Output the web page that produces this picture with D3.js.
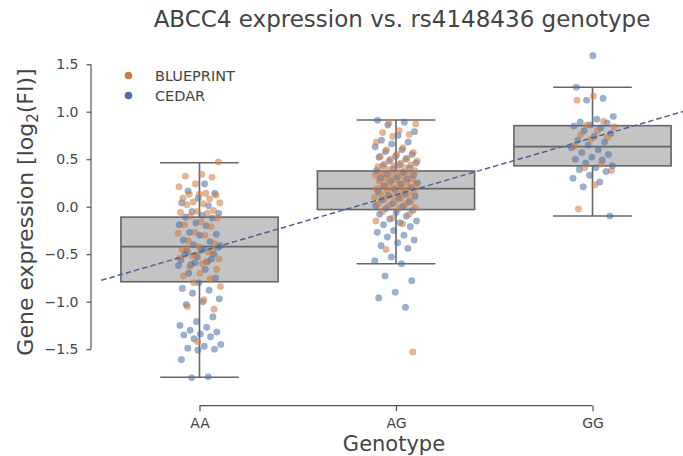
<!DOCTYPE html>
<html><head><meta charset="utf-8">
<script src="https://cdn.jsdelivr.net/npm/d3@7"></script>
<style>body{margin:0;background:#fff}svg{display:block}</style>
</head><body><svg id="c" width="683" height="456"></svg>
<script>
const genotypes = ["AA", "AG", "GG"];
const sources = ["BLUEPRINT", "CEDAR"];
const yTicks = [-1.5, -1.0, -0.5, 0.0, 0.5, 1.0, 1.5];
// box statistics
const q1 = [-0.79, -0.03, 0.43];
const median = [-0.42, 0.19, 0.632];
const q3 = [-0.11, 0.376, 0.853];
const whiskerLow = [-1.796, -0.60, -0.098];
const whiskerHigh = [0.463, 0.913, 1.257];
// regression line: value = intercept + slope * genotypeIndex
const regIntercept = -0.475;
const regSlope = 0.60;
// points
const AA_BLUEPRINT = [0.47,0.34,0.32,0.31,0.24,0.21,0.14,0.13,0.12,0.13,0.09,0.08,0.05,0.04,0.03,0.02,-0.04,-0.05,-0.06,-0.07,-0.1,-0.12,-0.16,-0.19,-0.21,-0.27,-0.28,-0.3,-0.36,-0.39,-0.42,-0.45,-0.48,-0.52,-0.55,-0.6,-0.44,-0.47,-0.51,-0.54,-0.58,-0.63,-0.66,-0.7,-0.73,-0.76,-0.8,-0.84,-0.98,-1.05,-1.08,-1.42];
const AA_CEDAR = [0.24,0.165,0.14,0.09,0.04,0.01,-0.05,-0.07,-0.09,-0.11,-0.12,-0.17,-0.19,-0.2,-0.27,-0.29,-0.3,-0.35,-0.37,-0.4,-0.41,-0.44,-0.47,-0.5,-0.53,-0.56,-0.58,-0.61,-0.43,-0.46,-0.5,-0.55,-0.59,-0.62,-0.66,-0.7,-0.75,-0.8,-0.86,-0.88,-0.91,-0.97,-1.0,-1.03,-1.16,-1.21,-1.25,-1.27,-1.3,-1.32,-1.34,-1.35,-1.37,-1.39,-1.45,-1.47,-1.49,-1.5,-1.51,-1.61,-1.79,-1.8];
const AG_BLUEPRINT = [0.88,0.87,0.8,0.78,0.76,0.74,0.68,0.62,0.6,0.57,0.55,0.53,0.51,0.5,0.48,0.46,0.45,0.44,0.43,0.42,0.41,0.39,0.38,0.37,0.36,0.35,0.34,0.33,0.32,0.3,0.29,0.28,0.27,0.26,0.25,0.24,0.23,0.22,0.21,0.2,0.19,0.18,0.17,0.15,0.14,0.13,0.12,0.11,0.1,0.09,0.08,0.06,0.05,0.03,0.02,0.01,-0.01,-0.02,-0.05,-0.08,-0.12,-0.15,-0.18,-0.45,-1.53];
const AG_CEDAR = [0.91,0.89,0.86,0.79,0.75,0.7,0.68,0.66,0.63,0.6,0.58,0.55,0.53,0.52,0.5,0.48,0.46,0.44,0.43,0.41,0.4,0.38,0.36,0.34,0.33,0.31,0.3,0.29,0.27,0.25,0.24,0.22,0.2,0.18,0.16,0.14,0.12,0.11,0.09,0.07,0.05,0.03,0.01,0.0,-0.02,-0.04,-0.06,-0.08,-0.1,-0.13,-0.15,-0.17,-0.19,-0.21,-0.25,-0.27,-0.3,-0.32,-0.35,-0.38,-0.41,-0.44,-0.53,-0.57,-0.6,-0.73,-0.78,-0.9,-0.96,-1.06];
const GG_BLUEPRINT = [1.165,1.12,0.9,0.86,0.84,0.8,0.76,0.73,0.71,0.64,0.45,0.41,0.38,0.23,-0.025];
const GG_CEDAR = [1.59,1.257,1.14,1.12,0.95,0.92,0.89,0.88,0.86,0.85,0.83,0.8,0.77,0.74,0.7,0.68,0.65,0.62,0.6,0.57,0.55,0.52,0.5,0.49,0.46,0.43,0.41,0.39,0.37,0.33,0.3,0.26,0.21,-0.098];

const pointSets = [
  {g:"AA", s:"CEDAR", v:AA_CEDAR}, {g:"AA", s:"BLUEPRINT", v:AA_BLUEPRINT},
  {g:"AG", s:"CEDAR", v:AG_CEDAR}, {g:"AG", s:"BLUEPRINT", v:AG_BLUEPRINT},
  {g:"GG", s:"CEDAR", v:GG_CEDAR}, {g:"GG", s:"BLUEPRINT", v:GG_BLUEPRINT}
];
const color = d3.scaleOrdinal().domain(sources).range(["#d07a3c", "#4a6fa5"]);

const svg = d3.select("#c");
const textCol = "#444";
const font = "DejaVu Sans, sans-serif";
const x = d3.scalePoint().domain(genotypes).range([199.5, 592.5]);
const step = x.step();
const xi = i => x.range()[0] + i * step;
const y = d3.scaleLinear().domain([-1.5, 1.5]).range([349.2, 64.2]);

// boxes
const boxW = step * 0.8, capW = step * 0.4;
const boxG = svg.append("g");
genotypes.forEach((g, i) => {
  const cx = x(g);
  boxG.append("line").attr("x1", cx).attr("x2", cx).attr("y1", y(whiskerHigh[i])).attr("y2", y(q3[i]));
  boxG.append("line").attr("x1", cx).attr("x2", cx).attr("y1", y(q1[i])).attr("y2", y(whiskerLow[i]));
  boxG.append("line").attr("x1", cx - capW/2).attr("x2", cx + capW/2).attr("y1", y(whiskerHigh[i])).attr("y2", y(whiskerHigh[i]));
  boxG.append("line").attr("x1", cx - capW/2).attr("x2", cx + capW/2).attr("y1", y(whiskerLow[i])).attr("y2", y(whiskerLow[i]));
  boxG.append("rect").attr("x", cx - boxW/2).attr("width", boxW).attr("y", y(q3[i])).attr("height", y(q1[i]) - y(q3[i]))
    .attr("fill", "#c4c4c4");
  boxG.append("line").attr("x1", cx - boxW/2).attr("x2", cx + boxW/2).attr("y1", y(median[i])).attr("y2", y(median[i]));
});
boxG.selectAll("line").attr("stroke", "#666").attr("stroke-width", 1.6);
boxG.selectAll("rect").attr("stroke", "#666").attr("stroke-width", 1.6);

// points (deterministic golden-ratio jitter)
let k = 0;
const pts = [];
pointSets.forEach(ps => ps.v.forEach(v => { k++; pts.push({g: ps.g, s: ps.s, v, j: ((k * 0.6180339887) % 1) - 0.5}); }));
svg.append("g").selectAll("circle").data(pts).join("circle")
  .attr("cx", d => x(d.g) + d.j * 0.22 * step)
  .attr("cy", d => y(d.v))
  .attr("r", 3.3)
  .attr("fill", d => color(d.s))
  .attr("fill-opacity", 0.55)
  .attr("stroke", d => color(d.s))
  .attr("stroke-opacity", 0.3)
  .attr("stroke-width", 0.5);

// regression line
svg.append("line")
  .attr("x1", xi(-0.5)).attr("y1", y(regIntercept + regSlope * -0.5))
  .attr("x2", xi(2.5)).attr("y2", y(regIntercept + regSlope * 2.5))
  .attr("stroke", "#4c6399").attr("stroke-width", 1.5).attr("stroke-dasharray", "5.5,3");

// y axis
const yAxis = svg.append("g").attr("transform", "translate(91,0)")
  .call(d3.axisLeft(y).tickValues(yTicks).tickFormat(d => d3.format(".1f")(d).replace("-", "\u2212")).tickSize(4.5).tickPadding(8));
// x axis
const xAxis = svg.append("g").attr("transform", "translate(0,405.7)")
  .call(d3.axisBottom(x).tickSize(5.5).tickPadding(6.5));
[yAxis, xAxis].forEach(a => {
  a.select(".domain").attr("stroke", "#555").attr("stroke-width", 1.2);
  a.selectAll(".tick line").attr("stroke", "#555").attr("stroke-width", 1.2);
  a.selectAll(".tick text").attr("fill", textCol).attr("font-size", 14).attr("font-family", font);
});
yAxis.select(".domain").attr("d", `M0,${y(1.5)}V${y(-1.5)}`);
xAxis.select(".domain").attr("d", `M${x("AA")},0H${x("GG")}`);

// title & labels
svg.append("text").attr("x", 402).attr("y", 26.5).attr("text-anchor", "middle")
  .attr("font-family", font).attr("font-size", 23).attr("fill", textCol)
  .text("ABCC4 expression vs. rs4148436 genotype");
svg.append("text").attr("x", 394).attr("y", 451).attr("text-anchor", "middle")
  .attr("font-family", font).attr("font-size", 21).attr("fill", textCol).text("Genotype");
const yl = svg.append("text").attr("transform", "translate(33,212) rotate(-90)").attr("text-anchor", "middle")
  .attr("font-family", font).attr("font-size", 22).attr("fill", textCol);
yl.append("tspan").text("Gene expression [log");
yl.append("tspan").attr("font-size", 15).attr("dy", 5).text("2");
yl.append("tspan").attr("dy", -5).text("(FI)]");

// legend
const lg = svg.append("g");
sources.forEach((s, i) => {
  lg.append("circle").attr("cx", 128.5).attr("cy", 75.5 + i * 20).attr("r", 3.8).attr("fill", color(s));
  lg.append("text").attr("x", 155).attr("y", 80.5 + i * 20).attr("font-family", font).attr("font-size", 14.5)
    .attr("fill", textCol).text(s);
});
</script></body></html>
